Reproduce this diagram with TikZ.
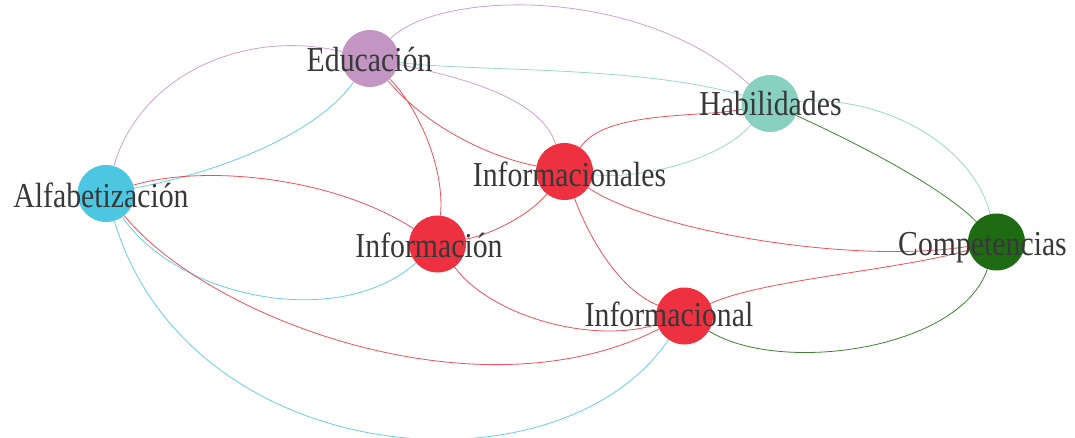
\documentclass[tikz,border=0pt]{standalone}
\usepackage{fontspec}
\setmainfont{Liberation Serif}[FakeStretch=0.85]
\usetikzlibrary{backgrounds}
\definecolor{edupurple}{HTML}{C295C3}
\definecolor{habteal}{HTML}{88D1C1}
\definecolor{alfcyan}{HTML}{4DC6E2}
\definecolor{infred}{HTML}{EE3140}
\definecolor{compgreen}{HTML}{1E6B14}
\definecolor{wordgray}{HTML}{383838}

\begin{document}
\begin{tikzpicture}[x=1pt, y=-1pt,
        dot/.style={circle, minimum size=57pt, inner sep=0pt},
        word/.style={anchor=base, inner sep=0pt, text=wordgray, font=\fontsize{35}{35}\selectfont},
        link/.style={line width=0.8pt, opacity=0.85}]
                \useasboundingbox (0,0) rectangle (1075,438);
                \node [dot, fill=alfcyan] (alf) at (106,193.5) {};
                \node [dot, fill=edupurple] (edu) at (370,58.5) {};
                \node [dot, fill=habteal] (hab) at (770,103.5) {};
                \node [dot, fill=infred] (infs) at (564.5,171.5) {};
                \node [dot, fill=infred] (infn) at (437.5,244) {};
                \node [dot, fill=infred] (infl) at (684.5,316) {};
                \node [dot, fill=compgreen] (comp) at (996.5,242) {};
                \node [word] (alf-w) at (101,208) {Alfabetización};
                \node [word] (edu-w) at (369.5,71.7) {Educación};
                \node [word] (hab-w) at (770.5,116) {Habilidades};
                \node [word] (infs-w) at (569.5,186.7) {Informacionales};
                \node [word] (infn-w) at (429,257) {Información};
                \node [word] (infl-w) at (669,326.7) {Informacional};
                \node [word] (comp-w) at (982.5,255) {Competencias};
                \begin{scope}[on background layer]
                \fill [white] (0,0) rectangle (1075,438);
                \draw [link, edupurple] (alf) .. controls (140,75) and (245,28) .. (edu)
                    (edu) .. controls (440,-10) and (640,-15) .. (hab)
                    (edu) .. controls (450,75) and (540,95) .. (infs);
                \draw [link, habteal] (edu) .. controls (470,72) and (640,65) .. (hab)
                    (infs) .. controls (640,180) and (720,160) .. (hab)
                    (hab) .. controls (890,95) and (975,150) .. (comp);
                \draw [link, alfcyan] (alf) .. controls (230,170) and (320,130) .. (edu)
                    (alf) .. controls (180,300) and (340,330) .. (infn)
                    (alf) .. controls (190,472) and (560,500) .. (infl);
                \draw [link, infred] (alf) .. controls (200,165) and (330,175) .. (infn)
                    (alf) .. controls (210,320) and (480,420) .. (infl)
                    (edu) .. controls (420,110) and (445,170) .. (infn)
                    (edu) .. controls (420,120) and (480,155) .. (infs)
                    (infn) .. controls (490,235) and (530,215) .. (infs)
                    (infs) .. controls (605,110) and (700,118) .. (hab)
                    (infs) .. controls (650,230) and (850,265) .. (comp)
                    (infs) .. controls (590,240) and (620,290) .. (infl)
                    (infn) .. controls (490,315) and (590,345) .. (infl)
                    (infl) .. controls (760,280) and (900,270) .. (comp);
                \draw [link, compgreen] (hab) .. controls (850,140) and (940,185) .. (comp)
                    (infl) .. controls (780,375) and (960,350) .. (comp);
                \end{scope}
            \end{tikzpicture}
\end{document}
